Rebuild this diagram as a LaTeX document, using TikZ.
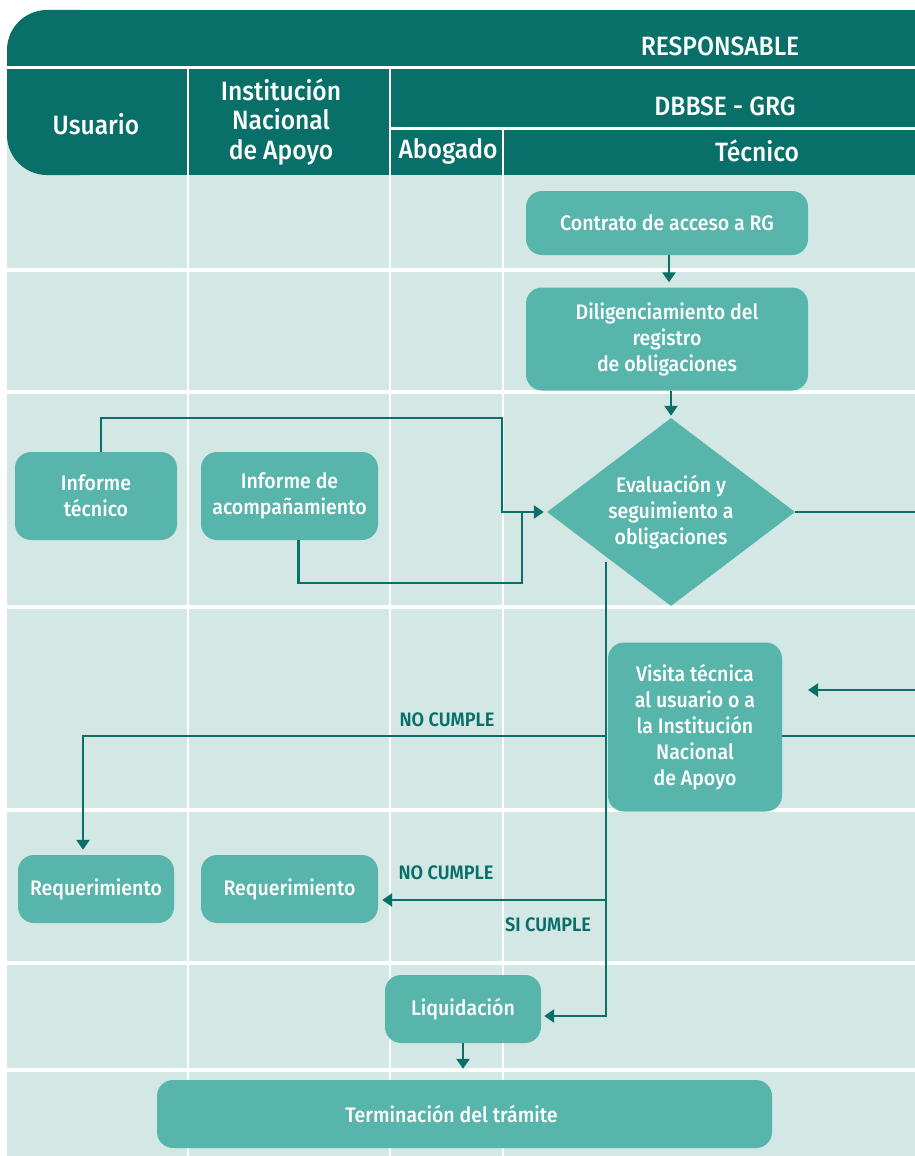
\documentclass[tikz,border=0pt]{standalone}
\usepackage{fontspec}
\setmainfont{Fira Sans}[UprightFont={* Medium}, BoldFont={* SemiBold}, FakeStretch=0.93]
\usetikzlibrary{shapes.geometric,arrows.meta}
\definecolor{hdr}{HTML}{087068}
\definecolor{boxc}{HTML}{58B5AC}
\definecolor{bgc}{HTML}{D3E7E5}
\tikzset{
  stepbox/.style={fill=boxc, rounded corners=16pt, text=white, align=center, inner sep=0pt,
    font=\fontsize{21}{26}\selectfont},
  hdrtext/.style={text=white, align=center, font=\fontsize{26.5}{29.5}\selectfont},
  lbl/.style={text=hdr, font=\bfseries\fontsize{19.5}{22}\selectfont},
  wline/.style={white, line width=3.5pt},
  vline/.style={white, line width=2.5pt},
  conn/.style={draw=hdr, line width=2.8pt},
  arr/.style={conn, -{Triangle[length=10pt,width=13pt]}},
}
\begin{document}
\begin{tikzpicture}[x=1pt,y=-1pt]
\useasboundingbox (0,0) rectangle (915,1156);
% background
\fill[bgc] (7,60) rectangle (915,1156);
% row separators
\foreach \yy in {270,392,607,810,963,1070} \draw[wline] (7,\yy) -- (915,\yy);
% column separators
\draw[vline] (188,68) -- (188,1156);
\draw[vline] (390,68) -- (390,1156);
\draw[vline] (503,128) -- (503,1156);
% header
\fill[hdr, rounded corners=40pt] (7,10) rectangle (120,175);
\fill[hdr] (80,10) rectangle (915,175);
\draw[wline, line width=3pt] (7,68) -- (915,68);
\draw[wline, line width=3pt] (390,128) -- (915,128);
\draw[vline] (188,68) -- (188,175);
\draw[vline] (390,68) -- (390,175);
\draw[vline] (503,128) -- (503,175);
\node[hdrtext] (hresp) at (720,46) {RESPONSABLE};
\node[hdrtext] (hdb) at (725,106) {DBBSE - GRG};
\node[hdrtext] (husu) at (96,124) {Usuario};
\node[hdrtext] (hins) at (281,122) {Institución\\Nacional\\de Apoyo};
\node[hdrtext] (habo) at (448,151) {Abogado};
\node[hdrtext] (htec) at (757,151) {Técnico};
% nodes
\node[stepbox, minimum width=282pt, minimum height=64pt] (c1) at (667,223) {Contrato de acceso a RG};
\node[stepbox, minimum width=282pt, minimum height=103pt] (c2) at (667,339) {Diligenciamiento del\\registro\\de obligaciones};
\node[diamond, fill=boxc, text=white, align=center, inner sep=0pt, aspect=1.32,
  minimum width=248pt, minimum height=188pt, font=\fontsize{21}{26}\selectfont] (ev) at (671,512) {Evaluación y\\seguimiento a\\obligaciones};
\node[stepbox, minimum width=162pt, minimum height=88pt] (it) at (96,496) {Informe\\técnico};
\node[stepbox, minimum width=177pt, minimum height=88pt] (ia) at (289.5,496) {Informe de\\acompañamiento};
\node[stepbox, minimum width=174pt, minimum height=169pt] (vt) at (695,727) {Visita técnica\\al usuario o a\\la Institución\\Nacional\\de Apoyo};
\node[stepbox, minimum width=156pt, minimum height=68pt] (rq1) at (96,889) {Requerimiento};
\node[stepbox, minimum width=177pt, minimum height=68pt] (rq2) at (289.5,889) {Requerimiento};
\node[stepbox, minimum width=156pt, minimum height=68pt] (liq) at (463,1009) {Liquidación};
\node[stepbox, minimum width=615pt, minimum height=68pt] (ter) at (464.5,1114) {Terminación del trámite\hspace*{26pt}};
% coordinates
\coordinate (er) at (915,512);
\coordinate (rin) at (915,690);
\coordinate (rend) at (808,690);
\coordinate (rout) at (915,736);
\coordinate (sp) at (606,562);
\coordinate (nc1) at (606,736);
\coordinate (nc2) at (606,900);
\coordinate (jn) at (522,512);
% connectors
\draw[arr, shorten >=5pt] (c1.south -| 669,0) -- (c2.north -| 669,0);
\draw[arr, shorten >=2pt] (c2.south -| 671,0) -- (ev.north);
\draw[arr, shorten >=3pt] ([xshift=5pt]it.north) |- (502,418) |- (ev.west);
\draw[conn] ([xshift=9pt]ia.south) |- (522,583) -- (jn);
\draw[conn] (ev.east) -- (er);
\draw[arr] (rin) -- (rend);
\draw[conn] (vt.east |- rout) -- (rout);
\draw[arr, shorten >=3pt] (sp) |- ([yshift=-7pt]liq.east);
\draw[arr, shorten >=5pt] (nc1) -| ([xshift=-13pt]rq1.north);
\draw[arr, shorten >=4pt] (nc2) -- ([yshift=-11pt]rq2.east);
\draw[arr, shorten >=11pt] (liq.south) -- (ter.north -| liq.south);
% labels
\node[lbl] (l1) at (447,720) {NO CUMPLE};
\node[lbl] (l2) at (446,873) {NO CUMPLE};
\node[lbl] (l3) at (548,925) {SI CUMPLE};
\end{tikzpicture}
\end{document}
